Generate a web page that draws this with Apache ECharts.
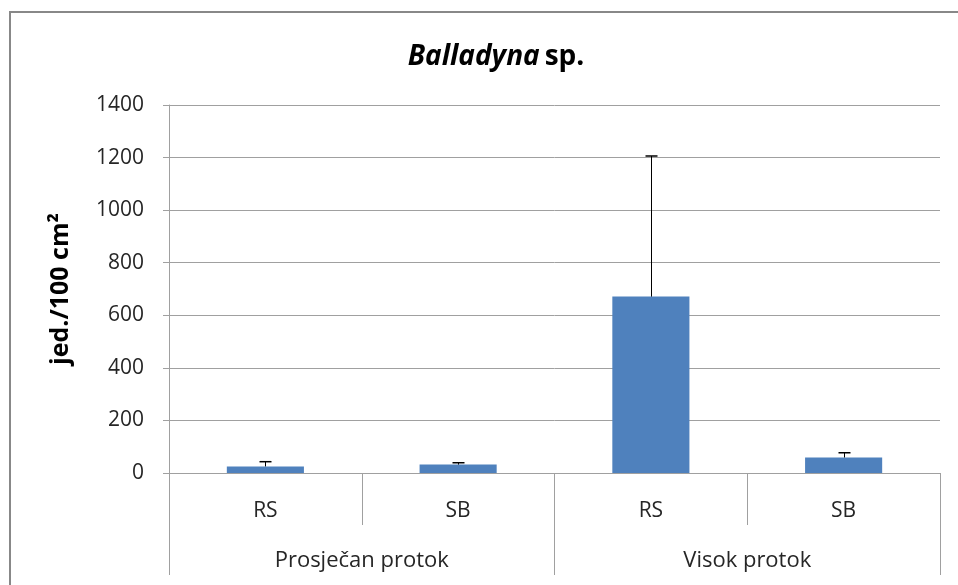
<!DOCTYPE html>
<html>
<head>
<meta charset="utf-8">
<script src="https://cdn.jsdelivr.net/npm/echarts@6/dist/echarts.min.js"></script>
<style>html,body{margin:0;padding:0;background:#fff;}#c{width:958px;height:585px;}</style>
</head>
<body>
<div id="c"></div>
<script>
const categories = ['RS', 'SB', 'RS', 'SB'];
const groups = ['Prosječan protok', 'Visok protok'];
const means = [25, 32, 671, 59];
const errors = [18, 7, 535, 18];
const yTicks = [0, 200, 400, 600, 800, 1000, 1200, 1400];

const FONT = '"Open Sans", Lato, sans-serif';
const chart = echarts.init(document.getElementById('c'));
chart.setOption({
  backgroundColor: '#fff',
  animation: false,
  title: {
    text: '{i|Balladyna} {b|sp.}',
    left: 491, top: 35, textAlign: 'center',
    textStyle: {
      rich: {
        i: { fontFamily: FONT, fontSize: 28, fontWeight: 'bold', fontStyle: 'italic', color: '#000', lineHeight: 34 },
        b: { fontFamily: FONT, fontSize: 28, fontWeight: 'bold', color: '#000', lineHeight: 34 }
      }
    }
  },
  graphic: [
    { type: 'line', shape: { x1: 9, y1: 12, x2: 958, y2: 12 }, style: { stroke: '#888', lineWidth: 2 } },
    { type: 'line', shape: { x1: 10, y1: 12, x2: 10, y2: 585 }, style: { stroke: '#888', lineWidth: 2 } }
  ],
  grid: { left: 169, right: 18, top: 105, bottom: 112 },
  xAxis: [
    {
      type: 'category', data: categories, position: 'bottom', offset: 0,
      axisLine: { lineStyle: { color: '#a0a0a0' } },
      axisTick: { show: true, interval: 0, length: 52, alignWithLabel: false, lineStyle: { color: '#a0a0a0' } },
      axisLabel: { interval: 0, margin: 28, fontFamily: FONT, fontSize: 21, color: '#262626' },
      splitLine: { show: false }
    },
    {
      type: 'category', data: groups, position: 'bottom', offset: 0,
      axisLine: { show: true, lineStyle: { color: '#a0a0a0' } },
      axisTick: { show: true, interval: 0, length: 102, alignWithLabel: false, lineStyle: { color: '#a0a0a0' } },
      axisLabel: { interval: 0, margin: 77, fontFamily: FONT, fontSize: 22, color: '#262626' },
      splitLine: { show: false }
    }
  ],
  yAxis: {
    type: 'value', min: yTicks[0], max: yTicks[yTicks.length - 1], interval: 200,
    name: 'jed./100 cm²', nameLocation: 'middle', nameGap: 96,
    nameTextStyle: { fontFamily: FONT, fontSize: 25, fontWeight: 'bold', color: '#000' },
    axisLine: { show: true, lineStyle: { color: '#a0a0a0' } },
    axisTick: { show: true, length: 6, lineStyle: { color: '#a0a0a0' } },
    axisLabel: { margin: 25, fontFamily: FONT, fontSize: 21, color: '#262626', formatter: v => String(v) },
    splitLine: { lineStyle: { color: '#a0a0a0' } }
  },
  series: [
    {
      type: 'bar', xAxisIndex: 0, data: means, barWidth: '40%',
      itemStyle: { color: '#4f81bd' }
    },
    {
      type: 'custom', xAxisIndex: 0,
      data: means.map((m, i) => [i, m, m + errors[i]]),
      renderItem: function (params, api) {
        const p0 = api.coord([api.value(0), api.value(1)]);
        const p1 = api.coord([api.value(0), api.value(2)]);
        const x = Math.round(p0[0]) + 0.5;
        return {
          type: 'group',
          children: [
            { type: 'line', shape: { x1: x, y1: p0[1], x2: x, y2: p1[1] }, style: { stroke: '#000', lineWidth: 1 } },
            { type: 'line', shape: { x1: x - 6, y1: p1[1], x2: x + 6, y2: p1[1] }, style: { stroke: '#000', lineWidth: 1.5 } }
          ]
        };
      },
      z: 5
    }
  ]
});
</script>
</body>
</html>
